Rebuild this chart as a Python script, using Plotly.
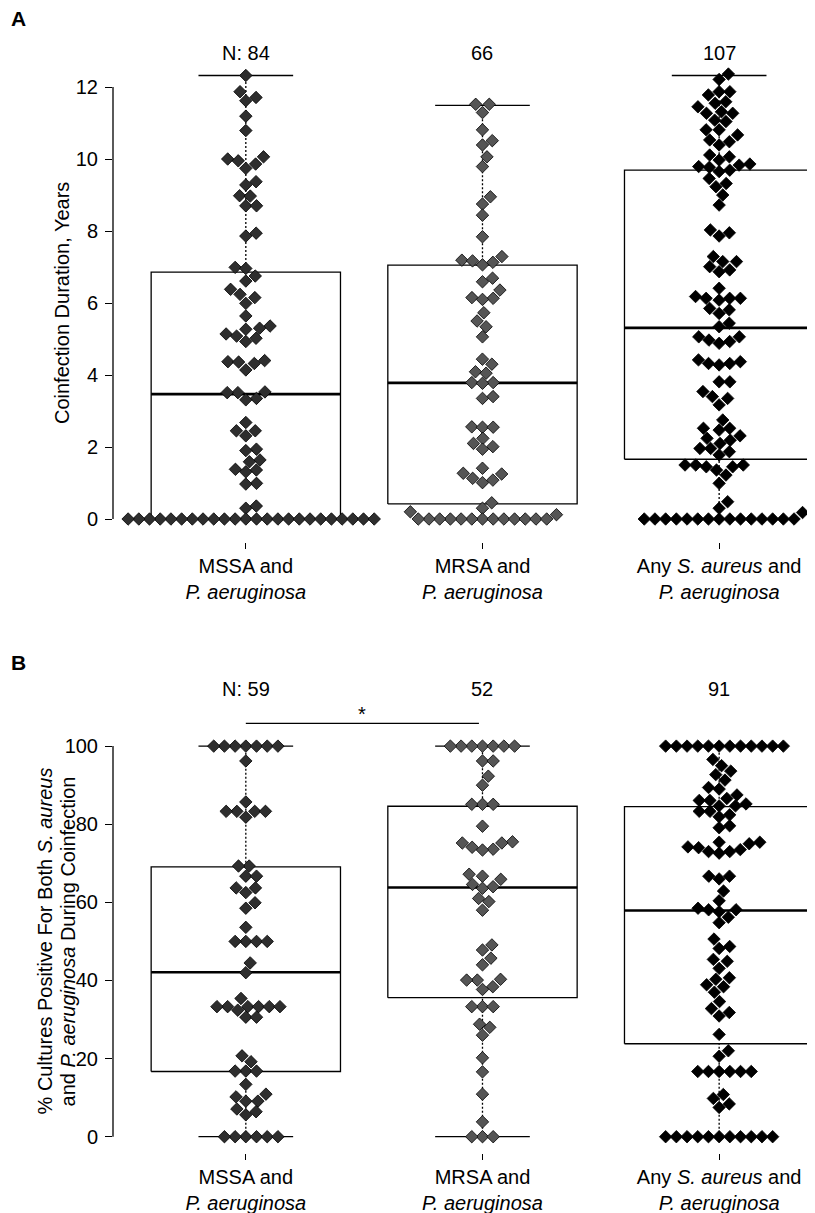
import math
import plotly.graph_objects as go

# The browser page adds an 8 px body margin, so all page-pixel targets are
# shifted by OFF when converted to figure pixels.
OFF = 8
PAGE_W, PAGE_H = 815, 1213
W, H = PAGE_W - OFF, PAGE_H - OFF
FONT = "Liberation Sans, Arial, Helvetica, sans-serif"
FS = 20

# ---------------- data ----------------
categories = ["MSSA and<br><i>P. aeruginosa</i>",
              "MRSA and<br><i>P. aeruginosa</i>",
              "Any <i>S. aureus</i> and<br><i>P. aeruginosa</i>"]
n_labels_a = ["N: 84", "66", "107"]
n_labels_b = ["N: 59", "52", "91"]
a_ticks = [0, 2, 4, 6, 8, 10, 12]
b_ticks = [0, 20, 40, 60, 80, 100]
title_a = "Coinfection Duration, Years"
title_b_lines = ["% Cultures Positive For Both <i>S. aureus</i>",
                 "and <i>P. aeruginosa</i> During Coinfection"]

# Panel A: coinfection duration (years)
a_mssa = [12.32, 11.87, 11.71, 11.62, 11.19, 10.79,
          10.06, 10.0, 9.95, 9.86, 9.74, 9.37, 9.28,
          8.98, 8.97, 8.70, 8.70, 7.94, 7.86,
          6.99, 6.96, 6.75, 6.61, 6.38, 6.24, 6.15, 5.99, 5.64,
          5.36, 5.30, 5.27, 5.14, 5.08, 5.02, 4.93,
          4.40, 4.37, 4.36, 4.32, 4.14,
          3.53, 3.51, 3.51, 3.35, 3.31,
          2.68, 2.45, 2.45, 2.31,
          1.94, 1.90, 1.64, 1.59, 1.38, 1.36, 1.31, 0.99, 0.97,
          0.36, 0.30,
          0, 0, 0, 0, 0, 0, 0, 0, 0, 0, 0, 0,
          0, 0, 0, 0, 0, 0, 0, 0, 0, 0, 0, 0]
a_mrsa = [11.52, 11.52, 11.29, 10.81, 10.51, 10.39, 10.06, 9.79,
          8.95, 8.75, 8.44, 7.84,
          7.29, 7.19, 7.17, 7.13, 7.06,
          6.69, 6.59, 6.36, 6.15, 6.13, 6.10,
          5.73, 5.50, 5.34, 5.06,
          4.44, 4.30, 4.09, 4.05, 3.79, 3.79, 3.77, 3.40, 3.35,
          2.56, 2.55, 2.55, 2.24, 2.10, 2.01, 1.94,
          1.41, 1.27, 1.25, 1.13, 1.08, 1.01,
          0.45, 0.30, 0.20, 0.12,
          0, 0, 0, 0, 0, 0, 0, 0, 0, 0, 0, 0, 0]
a_any = [12.36, 12.21,
         11.87, 11.87, 11.78, 11.59, 11.55, 11.45, 11.31, 11.27, 11.27, 11.08, 11.04,
         10.81, 10.81, 10.67, 10.53, 10.48, 10.39,
         10.11, 10.06, 9.97, 9.86, 9.83, 9.79, 9.77, 9.69, 9.65, 9.46,
         9.32, 9.23, 9.00, 8.72, 8.03, 7.95, 7.86,
         7.29, 7.15, 7.15, 7.01, 6.92, 6.87, 6.41,
         6.18, 6.13, 6.13, 6.13, 6.08, 5.85, 5.81, 5.71, 5.44, 5.34, 5.06, 5.06,
         4.97, 4.93, 4.88, 4.42, 4.37, 4.32, 4.32, 4.28,
         3.81, 3.81, 3.54, 3.40, 3.35, 3.17, 2.75,
         2.52, 2.52, 2.47, 2.31, 2.24, 2.19, 2.10, 1.96, 1.96, 1.87,
         1.78, 1.50, 1.50, 1.50, 1.45, 1.45, 1.36, 1.22, 0.99,
         0.48, 0.30, 0.18,
         0, 0, 0, 0, 0, 0, 0, 0, 0, 0, 0, 0, 0, 0, 0]
a_q1 = [0.0, 0.42, 1.66]
a_med = [3.47, 3.78, 5.31]
a_q3 = [6.86, 7.05, 9.69]
a_lo = [0.0, 0.0, 0.0]
a_hi = [12.32, 11.49, 12.32]

# Panel B: % cultures positive for both
b_mssa = [100, 100, 100, 100, 100, 100, 100, 96.2,
          85.7, 83.3, 83.3, 83.3, 83.3, 81.8,
          69.3, 69.3, 66.7, 66.7, 63.7, 63.7, 62.5, 59.9, 58.5,
          53.6, 50, 50, 50, 50, 44.5, 42.0,
          35.4, 33.3, 33.3, 33.3, 33.3, 33.3, 33.3, 32.4, 30.6, 30.6,
          20.7, 19.2, 16.8, 16.8, 16.8, 13.4,
          10.9, 10.2, 9.1, 9.1, 7.1, 6.4, 5.6,
          0, 0, 0, 0, 0, 0]
b_mrsa = [100, 100, 100, 100, 100, 100, 100, 96.2, 96.2, 92.3, 90.0,
          85.1, 85.1, 85.1, 79.5,
          75.5, 75.2, 75.2, 74.1, 73.6, 73.4,
          67.2, 66.7, 65.9, 64.6, 64.0, 63.6, 61.0, 60.2, 58.0,
          49.1, 47.8, 45.7, 44.0,
          40.3, 40.1, 40.1, 38.4, 37.7, 33.3, 33.3, 33.3,
          28.8, 28.0, 26.0, 20.2, 16.6, 10.9, 3.8,
          0, 0, 0]
b_any = [100, 100, 100, 100, 100, 100, 100, 100, 100, 100, 100, 100,
         96.6, 95.0, 93.6, 92.7, 91.3, 89.4, 89.0, 87.5, 86.6, 86.1,
         86.1, 85.2, 84.7, 84.7, 83.3, 83.3, 82.4, 81.9, 79.6, 79.1,
         75.4, 75.4, 75.0, 74.2, 74.0, 73.5, 73.0, 73.0, 72.6,
         66.7, 66.7, 66.0,
         62.9, 60.4, 58.5, 58.1, 58.1, 57.6, 56.2, 54.8,
         50.6, 48.7, 48.2, 45.4, 44.9, 43.1, 40.7, 40.3, 38.9, 38.4,
         37.0, 34.6, 32.8, 31.8, 30.9, 26.2,
         22.0, 20.6, 16.7, 16.7, 16.7, 16.7, 16.7, 16.7,
         10.8, 9.8, 8.4, 7.5,
         0, 0, 0, 0, 0, 0, 0, 0, 0, 0, 0]
b_q1 = [16.7, 35.6, 23.8]
b_med = [42.1, 63.8, 57.9]
b_q3 = [69.1, 84.6, 84.5]
b_lo = [0.0, 0.0, 0.0]
b_hi = [100.0, 100.0, 100.0]

point_colors = ["#2e2e2e", "#555555", "#000000"]

# ---------------- geometry (page pixels) ----------------
PLOT_L, PLOT_R = 113, 815
X_RANGE = [-0.5612, 2.405]
X_PX = (PLOT_R - PLOT_L) / (X_RANGE[1] - X_RANGE[0])

A_TOP, A_BOT = 40, 542
A_RANGE = [-0.639, 13.306]
B_TOP, B_BOT = 668, 1153
B_RANGE = [-4.17, 120.0]
A_PX = (A_BOT - A_TOP) / (A_RANGE[1] - A_RANGE[0])
B_PX = (B_BOT - B_TOP) / (B_RANGE[1] - B_RANGE[0])

SPACING = 10.7  # px between swarm points


def swarm(values, px_per_unit, d=SPACING):
    """Beeswarm (swarm method, ascending priority) offsets in category units."""
    order = sorted(range(len(values)), key=lambda k: values[k])
    placed = []
    xs = [0.0] * len(values)
    for k in order:
        y = values[k] * px_per_unit
        near = [(px, py) for (px, py) in placed if abs(py - y) < d]
        cands = [0.0]
        for px, py in near:
            dx = math.sqrt(max(d * d - (py - y) ** 2, 0.0))
            cands += [px - dx, px + dx]
        cands.sort(key=lambda c: (round(abs(c), 6), -c))
        chosen = cands[-1]
        for c in cands:
            if all((c - px) ** 2 + (y - py) ** 2 >= d * d - 1e-6 for px, py in near):
                chosen = c
                break
        xs[k] = chosen
        placed.append((chosen, y))
    return [x / X_PX for x in xs]


fig = go.Figure()
LINE = dict(color="black", width=1.3)


def add_panel(groups, q1, med, q3, lo, hi, ppu, xa, ya):
    for i in range(3):
        fig.add_trace(go.Scatter(
            x=[i - 0.4, i + 0.4, i + 0.4, i - 0.4, i - 0.4],
            y=[q1[i], q1[i], q3[i], q3[i], q1[i]],
            mode="lines", fill="toself", fillcolor="white",
            line=LINE, xaxis=xa, yaxis=ya, hoverinfo="skip", showlegend=False))
        wx, wy = [i, i, None], [q3[i], hi[i], None]
        if q1[i] > lo[i]:
            wx += [i, i]
            wy += [lo[i], q1[i]]
        fig.add_trace(go.Scatter(
            x=wx, y=wy, mode="lines",
            line=dict(color="black", width=1.3, dash="2px,2px"),
            xaxis=xa, yaxis=ya, hoverinfo="skip", showlegend=False))
        cx, cy = [i - 0.2, i + 0.2, None], [hi[i], hi[i], None]
        if q1[i] > lo[i]:
            cx += [i - 0.2, i + 0.2]
            cy += [lo[i], lo[i]]
        fig.add_trace(go.Scatter(
            x=cx, y=cy, mode="lines", line=LINE,
            xaxis=xa, yaxis=ya, hoverinfo="skip", showlegend=False))
        fig.add_trace(go.Scatter(
            x=[i - 0.4, i + 0.4], y=[med[i], med[i]], mode="lines",
            line=dict(color="black", width=2.6),
            xaxis=xa, yaxis=ya, hoverinfo="skip", showlegend=False))
    for i, vals in enumerate(groups):
        offs = swarm(vals, ppu)
        fig.add_trace(go.Scatter(
            x=[i + o for o in offs], y=vals, mode="markers",
            marker=dict(symbol="diamond", size=9.6, color=point_colors[i],
                        line=dict(color="black", width=0.8)),
            xaxis=xa, yaxis=ya, cliponaxis=False, showlegend=False))


add_panel([a_mssa, a_mrsa, a_any], a_q1, a_med, a_q3, a_lo, a_hi, A_PX, "x", "y")
add_panel([b_mssa, b_mrsa, b_any], b_q1, b_med, b_q3, b_lo, b_hi, B_PX, "x2", "y2")

# significance bar (panel B)
fig.add_trace(go.Scatter(x=[0, 0.985], y=[105.8, 105.8], mode="lines",
                         line=dict(color="black", width=1.2),
                         xaxis="x2", yaxis="y2", hoverinfo="skip", showlegend=False))

tickfont = dict(family=FONT, size=FS, color="black")
xcommon = dict(range=X_RANGE, tickmode="array", tickvals=[0, 1, 2], ticktext=categories,
               ticks="outside", ticklen=6, tickwidth=1.2, tickcolor="black",
               showline=False, showgrid=False, zeroline=False, tickfont=tickfont,
               ticklabelstandoff=0, fixedrange=True, automargin=False)
ycommon = dict(ticks="outside", ticklen=7, tickwidth=1.2, tickcolor="black",
               showline=False, showgrid=False, zeroline=False, tickfont=tickfont,
               ticklabelstandoff=3, tickmode="array", fixedrange=True, automargin=False)


def dom(top, bot):
    return [(H - (bot - OFF)) / H, (H - (top - OFF)) / H]


def px_x(page_x):
    return (page_x - PLOT_L) / (PLOT_R - PLOT_L)


def px_y(page_y):
    return 1 - (page_y - OFF) / H


fig.update_layout(
    width=W, height=H,
    margin=dict(l=PLOT_L - OFF, r=PAGE_W - PLOT_R, t=0, b=0, pad=0),
    paper_bgcolor="white", plot_bgcolor="rgba(0,0,0,0)",
    font=dict(family=FONT, size=FS, color="black"),
    xaxis=dict(domain=[0, 1], anchor="y", **xcommon),
    yaxis=dict(domain=dom(A_TOP, A_BOT), anchor="x", range=A_RANGE,
               tickvals=a_ticks, **ycommon),
    xaxis2=dict(domain=[0, 1], anchor="y2", **xcommon),
    yaxis2=dict(domain=dom(B_TOP, B_BOT), anchor="x2", range=B_RANGE,
                tickvals=b_ticks, **ycommon),
    showlegend=False,
)

# y axis lines spanning only the tick range
fig.add_shape(type="line", xref="paper", yref="y", x0=0, x1=0,
              y0=a_ticks[0], y1=a_ticks[-1], line=dict(color="black", width=1.3))
fig.add_shape(type="line", xref="paper", yref="y2", x0=0, x1=0,
              y0=b_ticks[0], y1=b_ticks[-1], line=dict(color="black", width=1.3))

ann = []
for i in range(3):
    ann.append(dict(x=i, y=12.94, xref="x", yref="y", text=n_labels_a[i],
                    showarrow=False, xanchor="center", yanchor="middle"))
    ann.append(dict(x=i, y=114.5, xref="x2", yref="y2", text=n_labels_b[i],
                    showarrow=False, xanchor="center", yanchor="middle"))
ann.append(dict(x=0.49, y=108.3, xref="x2", yref="y2", text="*",
                showarrow=False, xanchor="center", yanchor="middle"))
ann.append(dict(x=px_x(9), y=px_y(19), xref="paper", yref="paper", text="<b>A</b>",
                showarrow=False, xanchor="left", yanchor="middle", font=dict(size=21)))
ann.append(dict(x=px_x(9), y=px_y(662), xref="paper", yref="paper", text="<b>B</b>",
                showarrow=False, xanchor="left", yanchor="middle", font=dict(size=21)))
# axis titles
ann.append(dict(x=px_x(62), y=6, xref="paper", yref="y",
                text=title_a, textangle=-90,
                xanchor="center", yanchor="middle", showarrow=False))
for cx, line in zip([45, 68], title_b_lines):
    ann.append(dict(x=px_x(cx), y=50, xref="paper", yref="y2",
                    text=line, textangle=-90,
                    xanchor="center", yanchor="middle", showarrow=False))
fig.update_layout(annotations=ann)

fig.write_html("out.html")
